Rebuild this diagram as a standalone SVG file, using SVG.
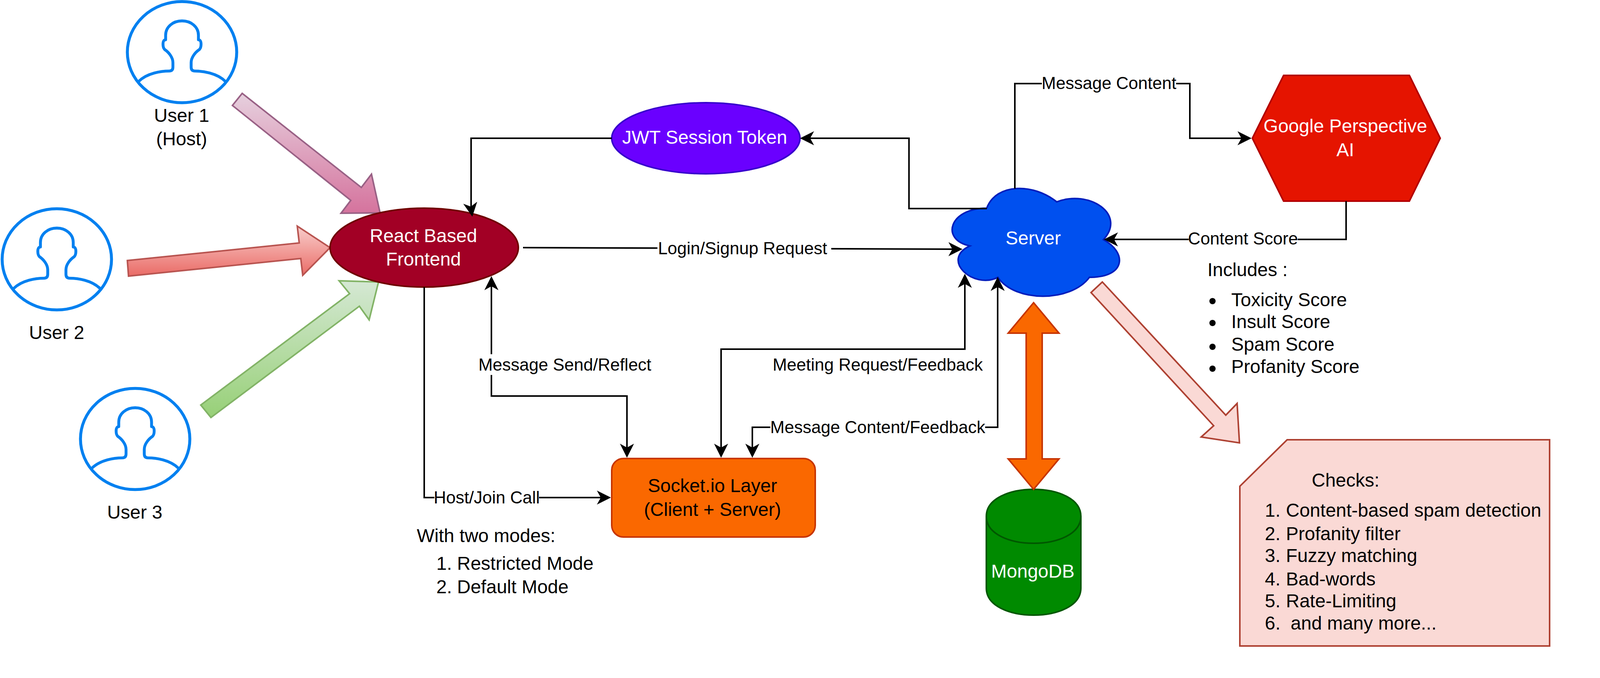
<svg xmlns="http://www.w3.org/2000/svg" xmlns:xlink="http://www.w3.org/1999/xlink" width="4160" height="1736" viewBox="0 0 4160 1736">
<style>
text{font-family:"Liberation Sans",Arial,sans-serif;font-size:48px;fill:#000}
.c{text-anchor:middle}
.w{fill:#fff}
.lbl{font-size:44px;text-anchor:middle}
.bg{fill:#fff}
.conn{fill:none;stroke:#000;stroke-width:4;marker-end:url(#arrow)}
.both{marker-start:url(#arrow)}
.circle{fill:#fff;stroke:#0080f0;stroke-width:7.5}
.person{fill:none;stroke:#0080f0;stroke-width:22;stroke-linejoin:round;stroke-linecap:round}
</style>
<defs>
<marker id="arrow" markerUnits="userSpaceOnUse" markerWidth="40" markerHeight="40" viewBox="-2 -20 40 40" refX="16" refY="0" orient="auto-start-reverse">
<path d="M0,-18 L36,0 L0,18 L10,0 Z" fill="#000"/>
</marker>
<linearGradient id="g1" x1="0" y1="0" x2="0" y2="1"><stop offset="0" stop-color="#e6d0de"/><stop offset="1" stop-color="#d5739d"/></linearGradient>
<linearGradient id="g2" x1="0" y1="0" x2="0" y2="1"><stop offset="0" stop-color="#f8cecc"/><stop offset="1" stop-color="#ea6b66"/></linearGradient>
<linearGradient id="g3" x1="0" y1="0" x2="0" y2="1"><stop offset="0" stop-color="#d5e8d4"/><stop offset="1" stop-color="#97d077"/></linearGradient>
<path id="person" class="person" transform="scale(.3333)" d="M-333,225 C-268,160 -158,145 -98,145 Q-70,145 -70,115 L-70,80 C-70,40 -103,0 -133,-20 C-148,-35 -146,-60 -146,-65 C-146,-80 -140,-95 -126,-95 L-126,-130 C-126,-195 -68,-240 0,-240 C68,-240 126,-195 126,-130 L126,-95 C140,-95 146,-80 146,-65 C146,-60 148,-35 133,-20 C103,0 70,40 70,80 L70,115 Q70,145 98,145 C158,145 268,160 333,225"/>
</defs>
<rect width="4160" height="1736" fill="#fff"/>

<g id="user-1">
<ellipse class="circle" cx="466" cy="133.5" rx="140" ry="129.5"/>
<use href="#person" xlink:href="#person" transform="translate(466,133.5)"/>
<text class="c" x="465" y="312">User 1</text>
<text class="c" x="465" y="372">(Host)</text>
</g>
<g id="user-2">
<ellipse class="circle" cx="145.5" cy="664" rx="140" ry="129.5"/>
<use href="#person" xlink:href="#person" transform="translate(145.5,664)"/>
<text class="c" x="145" y="868">User 2</text>
</g>
<g id="user-3">
<ellipse class="circle" cx="346" cy="1124" rx="140" ry="129.5"/>
<use href="#person" xlink:href="#person" transform="translate(346,1124)"/>
<text class="c" x="345" y="1328">User 3</text>
</g>

<g id="user-arrows">
<polygon points="620,239 595,270 898,513 873,546 973,545 951,446 925,480" fill="url(#g1)" stroke="#996185" stroke-width="4"/>
<polygon points="326,667 766,622 761,579 845,634 775,705 770,662 329,707" fill="url(#g2)" stroke="#b85450" stroke-width="4"/>
<polygon points="514,1037 895,752 868,719 969,722 945,819 920,784 540,1069" fill="url(#g3)" stroke="#82b366" stroke-width="4"/>
</g>

<g id="frontend">
<ellipse cx="1086" cy="634" rx="241" ry="101" fill="#a20025" stroke="#6f0000" stroke-width="4"/>
<text class="c w" x="1084" y="620">React Based</text>
<text class="c w" x="1084" y="680">Frontend</text>
</g>
<g id="jwt">
<ellipse cx="1807" cy="354" rx="241" ry="91" fill="#6a00ff" stroke="#3700cc" stroke-width="4"/>
<text class="c w" x="1804" y="368">JWT Session Token</text>
</g>
<g id="server">
<path transform="translate(2406.5,452.5) scale(478,322)" vector-effect="non-scaling-stroke" fill="#0050ef" stroke="#001dbc" stroke-width="4" d="M.25,.25 C.05,.25 0,.5 .16,.55 C0,.66 .18,.9 .31,.8 C.4,1 .7,1 .8,.8 C1,.8 1,.6 .875,.5 C1,.3 .8,.1 .625,.2 C.5,.05 .3,.05 .25,.25 Z"/>
<text class="c w" x="2645" y="626">Server</text>
</g>
<g id="perspective">
<polygon points="3286,193 3608,193 3687,354 3608,515 3286,515 3206,354" fill="#e51400" stroke="#b20000" stroke-width="4"/>
<text class="c w" x="3444" y="339">Google Perspective</text>
<text class="c w" x="3444" y="400">AI</text>
</g>
<g id="socket">
<rect x="1566" y="1174" width="521" height="201" rx="30" ry="30" fill="#fa6800" stroke="#c73500" stroke-width="4"/>
<text class="c" x="1824" y="1260">Socket.io Layer</text>
<text class="c" x="1824" y="1321">(Client + Server)</text>
</g>
<g id="mongodb">
<path fill="#008a00" stroke="#005700" stroke-width="4" d="M2525,1322 C2525,1230 2767,1230 2767,1322 L2767,1506 C2767,1598 2525,1598 2525,1506 Z"/>
<path fill="none" stroke="#005700" stroke-width="4" d="M2525,1322 C2525,1414 2767,1414 2767,1322"/>
<text class="c w" x="2644" y="1479">MongoDB</text>
</g>
<g id="checks">
<polygon points="3295,1126 3967,1126 3967,1654 3174,1654 3174,1245" fill="#fad9d5" stroke="#ae4132" stroke-width="4"/>
<text x="3358" y="1246">Checks:</text>
<text y="1323"><tspan x="3238">1.</tspan> <tspan x="3292">Content-based spam detection</tspan></text>
<text y="1383"><tspan x="3238">2.</tspan> <tspan x="3292">Profanity filter</tspan></text>
<text y="1439"><tspan x="3238">3.</tspan> <tspan x="3292">Fuzzy matching</tspan></text>
<text y="1499"><tspan x="3238">4.</tspan> <tspan x="3292">Bad-words</tspan></text>
<text y="1555"><tspan x="3238">5.</tspan> <tspan x="3292">Rate-Limiting</tspan></text>
<text y="1612"><tspan x="3238">6.</tspan> <tspan x="3304">and many more...</tspan></text>
</g>
<g id="checks-arrow">
<polygon points="2822,722 2793,749 3107,1090 3075,1119 3173,1134 3167,1033 3138,1063" fill="#fad9d5" stroke="#ae4132" stroke-width="4"/>
</g>
<g id="db-arrow">
<polygon points="2646,775 2711,853 2668,853 2668,1175 2711,1175 2646,1253 2581,1175 2627,1175 2627,853 2581,853" fill="#fa6800" stroke="#c73500" stroke-width="4"/>
</g>

<g id="connectors">
<path class="conn" d="M1566,354 H1206 V534 L1206.15,535"/>
<path class="conn" d="M2526,534 H2327 V354 H2068"/>
<path class="conn" d="M1339,634 L2444,638"/>
<path class="conn both" d="M1258,727 V1014 H1605 V1152"/>
<path class="conn" d="M1086,735 V1274 H1544"/>
<path class="conn both" d="M1846,1152 V894 H2470 V721"/>
<path class="conn both" d="M1926,1152 V1094 H2554 V729"/>
<path class="conn" d="M2598,483 V214 H3046 V354 H3184"/>
<path class="conn" d="M3446,515 V613 H2846"/>
<rect class="bg" x="1683" y="610" width="445" height="54"/>
<text class="lbl" x="1901" y="651">Login/Signup Request</text>
<rect class="bg" x="1226" y="907" width="441" height="53"/>
<text class="lbl" x="1446" y="949">Message Send/Reflect</text>
<rect class="bg" x="1112" y="1250" width="268" height="50"/>
<text class="lbl" x="1246" y="1289">Host/Join Call</text>
<rect class="bg" x="1979" y="907" width="536" height="53"/>
<text class="lbl" x="2247" y="949">Meeting Request/Feedback</text>
<rect class="bg" x="1972" y="1067" width="550" height="53"/>
<text class="lbl" x="2247" y="1109">Message Content/Feedback</text>
<rect class="bg" x="2667" y="187" width="344" height="53"/>
<text class="lbl" x="2839" y="228">Message Content</text>
<rect class="bg" x="3043" y="585" width="279" height="53"/>
<text class="lbl" x="3182" y="626">Content Score</text>
</g>

<g id="modes-note">
<text x="1067" y="1388">With two modes:</text>
<text y="1459"><tspan x="1117">1.</tspan> <tspan x="1170">Restricted Mode</tspan></text>
<text y="1519"><tspan x="1117">2.</tspan> <tspan x="1170">Default Mode</tspan></text>
</g>
<g id="includes-note">
<text x="3091" y="707">Includes :</text>
<circle cx="3104" cy="771" r="8"/><text x="3152" y="784">Toxicity Score</text>
<circle cx="3104" cy="827" r="8"/><text x="3152" y="840">Insult Score</text>
<circle cx="3104" cy="888" r="8"/><text x="3152" y="898">Spam Score</text>
<circle cx="3104" cy="944" r="8"/><text x="3152" y="955">Profanity Score</text>
</g>
</svg>
